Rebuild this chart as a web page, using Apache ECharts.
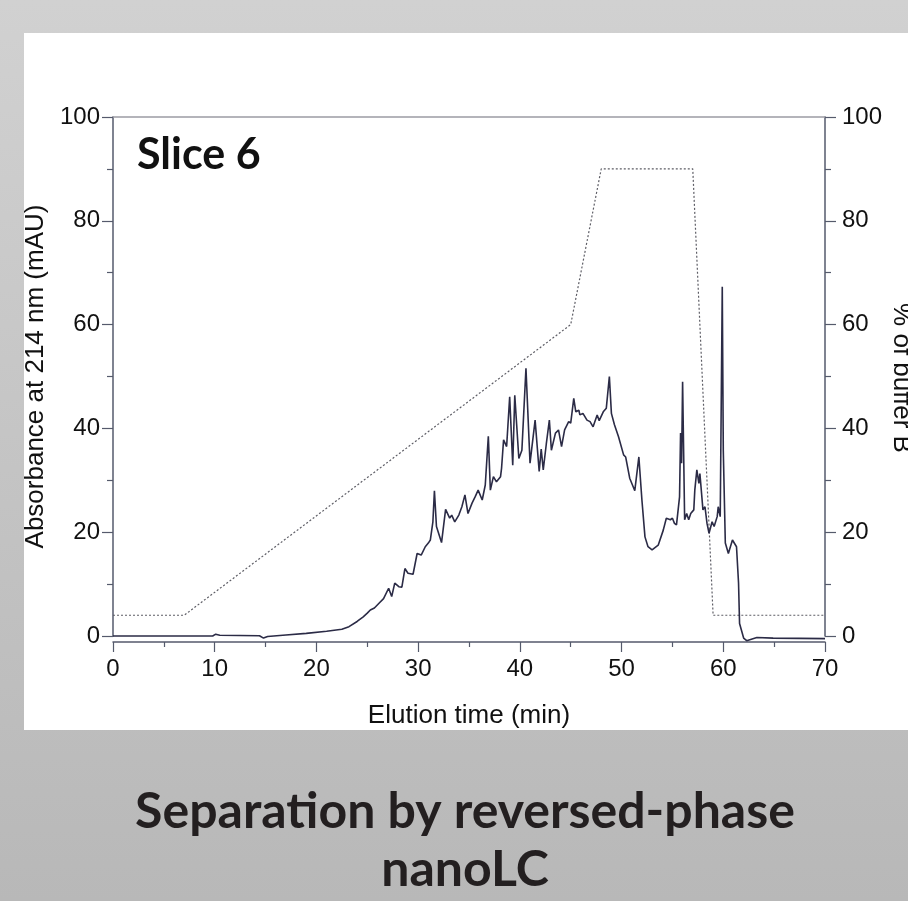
<!DOCTYPE html>
<html>
<head>
<meta charset="utf-8">
<script src="https://cdn.jsdelivr.net/npm/echarts@6/dist/echarts.min.js"></script>
<style>
html,body{margin:0;padding:0;width:908px;height:901px;overflow:hidden;}
#chart{width:908px;height:901px;}
</style>
</head>
<body>
<div id="chart"></div>
<script>
// Absorbance trace (mAU) vs elution time (min)
const elutionTime = [0,5,9.8,10.1,10.5,14.4,14.8,15.2,17,19,21,22.5,23.2,24,24.6,25.0,25.3,25.7,26.2,26.6,27.1,27.4,27.7,28.1,28.4,28.7,29.0,29.5,29.9,30.3,30.7,31.0,31.2,31.45,31.6,31.8,32.3,32.7,33.1,33.3,33.6,34.0,34.3,34.6,34.9,35.3,35.6,35.9,36.3,36.6,36.9,37.1,37.4,37.7,38.1,38.2,38.4,38.7,39.0,39.3,39.5,39.9,40.2,40.6,41.0,41.5,41.9,42.1,42.3,42.6,42.9,43.1,43.5,43.8,44.1,44.4,44.8,45.0,45.3,45.5,45.8,45.9,46.2,46.6,46.9,47.2,47.6,47.8,48.2,48.5,48.8,49.0,49.3,49.7,50.2,50.4,50.8,51.3,51.7,52.0,52.3,52.6,53.0,53.6,54.1,54.4,54.8,55.0,55.2,55.4,55.7,55.8,55.9,56.0,56.2,56.4,56.6,56.8,57.1,57.2,57.4,57.6,57.7,58.0,58.2,58.4,58.6,58.9,59.1,59.4,59.5,59.7,59.9,60.0,60.2,60.5,60.9,61.3,61.5,61.6,62.0,62.3,63.3,64.9,70];
const absorbance = [0,0,0,0.35,0.15,0.05,-0.4,-0.1,0.2,0.5,0.9,1.3,1.8,2.8,3.7,4.4,5.0,5.4,6.4,7.2,9.2,7.6,10.2,9.5,9.4,13.0,12.1,11.9,15.9,15.6,17.2,17.9,18.5,22,28.0,21.1,18.0,24.4,22.7,23.3,22.0,23.3,24.9,27.2,23.6,25.6,26.8,28.1,26.2,29.1,38.5,28.1,30.7,29.7,30.7,32.3,37.8,36.5,46.1,32.9,46.4,34.2,35.8,51.6,33.3,41.6,31.7,36,32,37,41.6,35.8,39.1,39.7,36.5,39.7,41.3,41.0,45.8,43.2,43.5,42.6,42.9,41.6,41.3,40.3,42.6,41.5,43.2,43.9,50.0,42.9,40.7,38.4,34.9,34.5,30.4,28.0,34.5,26.2,19.1,17.2,16.6,17.5,20.4,22.7,22.4,22.7,21.7,21.4,26.8,39.1,33.3,49.0,22.4,23.6,22.4,23.6,24.3,28.1,32.0,29.4,31.3,24.3,24.9,21.7,19.8,22.0,21.1,23.0,24.9,23.0,67.3,35.8,17.9,15.9,18.5,17.2,10.2,2.4,-0.4,-0.9,-0.3,-0.4,-0.5];

// Gradient program (% of buffer B)
const gradientTime = [0,7,45,48,57,59,70];
const bufferB = [4,4,60,90,90,4,4];

// Axis ticks
const xTicks = [0,10,20,30,40,50,60,70];
const yTicks = [0,20,40,60,80,100];

const traceData = elutionTime.map((t,i)=>[t,absorbance[i]]);
const gradientData = gradientTime.map((t,i)=>[t,bufferB[i]]);

const axisColor = '#555a6c';
const labelFont = {fontFamily:'Liberation Sans', fontSize:24, color:'#111'};
const nameFont = {fontFamily:'Liberation Sans', fontSize:26, color:'#111'};

const chart = echarts.init(document.getElementById('chart'), null, {renderer:'canvas'});
chart.setOption({
  animation:false,
  backgroundColor:{type:'linear',x:0,y:0,x2:0,y2:1,colorStops:[{offset:0,color:'#d1d1d1'},{offset:1,color:'#b8b8b8'}]},
  graphic:[
    {type:'rect',z:-10,silent:true,shape:{x:24,y:33,width:884,height:697},style:{fill:'#ffffff'}},
    {type:'text',z:10,silent:true,x:888,y:378,rotation:-Math.PI/2,
     style:{text:'% of buffer B',fontFamily:'Liberation Sans',fontSize:26,fill:'#111',align:'center',verticalAlign:'bottom'}}
  ],
  title:[
    {text:'Slice 6',left:132,top:129,textStyle:{fontFamily:'Lato',fontWeight:'bold',fontSize:43,color:'#111'}},
    {text:'Separation by reversed-phase\nnanoLC',left:460,top:778,textAlign:'center',
     textStyle:{fontFamily:'Lato',fontWeight:'bold',fontSize:50,lineHeight:58,color:'#231f20'}}
  ],
  grid:{left:113,right:83,top:117,bottom:265,containLabel:false,outerBoundsMode:'none'},
  xAxis:[
    {type:'value',position:'bottom',min:0,max:70,interval:10,offset:6,
     name:'Elution time (min)',nameLocation:'middle',nameGap:61,nameTextStyle:nameFont,
     axisLine:{show:true,onZero:false,lineStyle:{color:axisColor,width:1.5}},
     axisTick:{show:true,inside:false,length:10,lineStyle:{color:axisColor,width:1.2}},
     minorTick:{show:true,splitNumber:2,length:5,lineStyle:{color:axisColor,width:1.2}},
     axisLabel:Object.assign({margin:15,customValues:xTicks},labelFont),
     splitLine:{show:false}},
    {type:'value',position:'top',min:0,max:70,
     axisLine:{show:true,onZero:false,lineStyle:{color:'#9c9ca4',width:1.5}},
     axisTick:{show:false},axisLabel:{show:false},splitLine:{show:false}}
  ],
  yAxis:[
    {type:'value',position:'left',min:0,max:100,interval:20,
     name:'Absorbance at 214 nm (mAU)',nameLocation:'middle',nameGap:63,nameTextStyle:nameFont,
     axisLine:{show:true,onZero:false,lineStyle:{color:axisColor,width:1.5}},
     axisTick:{show:true,inside:false,length:11,lineStyle:{color:axisColor,width:1.2}},
     minorTick:{show:true,splitNumber:2,length:6,lineStyle:{color:axisColor,width:1.2}},
     axisLabel:Object.assign({margin:13,customValues:yTicks},labelFont),
     splitLine:{show:false}},
    {type:'value',position:'right',min:0,max:100,interval:20,
     axisLine:{show:true,onZero:false,lineStyle:{color:axisColor,width:1.5}},
     axisTick:{show:true,inside:false,length:11,lineStyle:{color:axisColor,width:1.2}},
     minorTick:{show:true,splitNumber:2,length:6,lineStyle:{color:axisColor,width:1.2}},
     axisLabel:Object.assign({margin:17,customValues:yTicks},labelFont),
     splitLine:{show:false}}
  ],
  series:[
    {type:'line',name:'% of buffer B',xAxisIndex:0,yAxisIndex:1,data:gradientData,showSymbol:false,
     lineStyle:{color:'#5e5e66',width:1.2,type:[2,2]},z:2},
    {type:'line',name:'Absorbance',xAxisIndex:0,yAxisIndex:0,data:traceData,showSymbol:false,clip:false,
     lineStyle:{color:'#2b2b46',width:1.6},z:3}
  ]
});
</script>
</body>
</html>
